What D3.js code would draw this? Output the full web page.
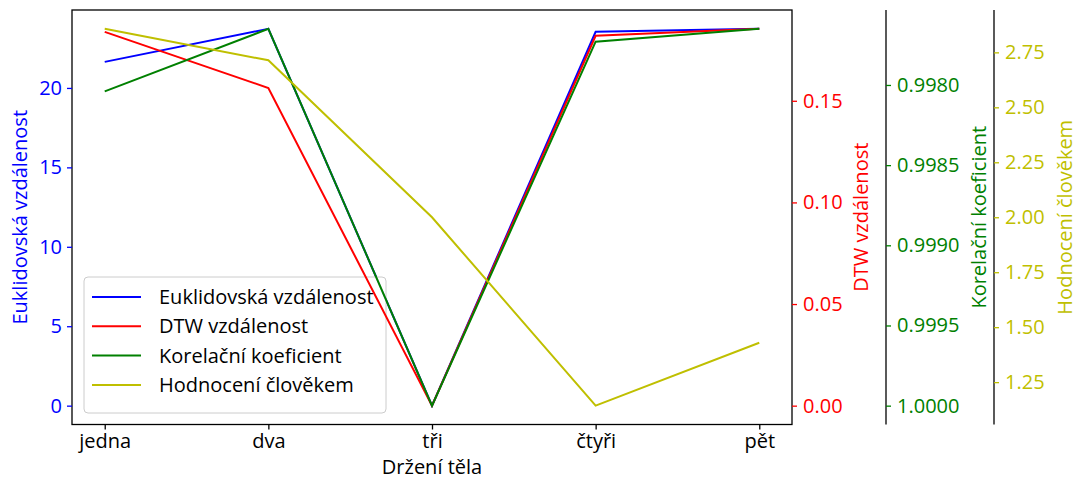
<!DOCTYPE html>
<html>
<head>
<meta charset="utf-8">
<script src="https://cdn.jsdelivr.net/npm/d3@7"></script>
<style>
  body { margin: 0; background: #fff; }
  svg text { font-family: "Open Sans", sans-serif; }
</style>
</head>
<body>
<div id="view"></div>
<script>
var categories = ["jedna", "dva", "tři", "čtyři", "pět"];
var euklid = [21.64, 23.72, 0, 23.53, 23.72];
var dtw = [0.1839, 0.1563, 0, 0.182, 0.1854];
var korel = [0.99804, 0.99765, 1.0, 0.99773, 0.99765];
var hodnoceni = [2.857, 2.714, 2.0, 1.143, 1.429];

var euklidTicks = [0, 5, 10, 15, 20];
var dtwTicks = [0, 0.05, 0.10, 0.15];
var korelTicks = [0.998, 0.9985, 0.999, 0.9995, 1.0];
var hodTicks = [1.25, 1.5, 1.75, 2.0, 2.25, 2.5, 2.75];

var names = ["Euklidovská vzdálenost", "DTW vzdálenost", "Korelační koeficient", "Hodnocení člověkem"];
var colors = ["#0000ff", "#ff0000", "#008000", "#bfbf00"];

var pLeft = 72, pRight = 792, pTop = 10, pBottom = 424.5;
var fs = 20;

var svg = d3.select("#view")
    .append("svg")
    .attr("width", 1078)
    .attr("height", 485);

var x = d3.scalePoint()
    .domain(categories)
    .range([pLeft, pRight])
    .padding(0.2);

// matplotlib-like 5% margins
function padded(vals) {
    var ext = d3.extent(vals), r = ext[1] - ext[0];
    return [ext[0] - 0.05 * r, ext[1] + 0.05 * r];
}

var y1 = d3.scaleLinear().domain(padded(euklid)).range([pBottom, pTop]);
var y2 = d3.scaleLinear().domain(padded(dtw)).range([pBottom, pTop]);
var y3 = d3.scaleLinear().domain(padded(korel)).range([pTop, pBottom]); // inverted
var y4 = d3.scaleLinear().domain(padded(hodnoceni)).range([pBottom, pTop]);

function line(scale) {
    return d3.line()
        .x(function(d, i) { return x(categories[i]); })
        .y(function(d) { return scale(d); });
}

function drawSeries(vals, scale, color) {
    svg.append("path")
        .datum(vals)
        .attr("fill", "none")
        .attr("stroke", color)
        .attr("stroke-width", 2)
        .attr("d", line(scale));
}

drawSeries(euklid, y1, colors[0]);

// legend
var lg = svg.append("g").attr("transform", "translate(84,277)");
lg.append("rect")
    .attr("width", 302)
    .attr("height", 136)
    .attr("rx", 4)
    .attr("fill", "#fff")
    .attr("fill-opacity", 0.8)
    .attr("stroke", "#cccccc")
    .attr("stroke-width", 1);
names.forEach(function(n, i) {
    var yy = 20 + i * 29.3;
    lg.append("line")
        .attr("x1", 8).attr("x2", 57)
        .attr("y1", yy).attr("y2", yy)
        .attr("stroke", colors[i])
        .attr("stroke-width", 2);
    lg.append("text")
        .attr("x", 75)
        .attr("y", yy)
        .attr("dy", "0.35em")
        .attr("font-size", fs)
        .attr("fill", "#000")
        .text(n);
});

drawSeries(dtw, y2, colors[1]);
drawSeries(korel, y3, colors[2]);
drawSeries(hodnoceni, y4, colors[3]);

// frame
svg.append("rect")
    .attr("x", pLeft).attr("y", pTop)
    .attr("width", pRight - pLeft).attr("height", pBottom - pTop)
    .attr("fill", "none")
    .attr("stroke", "#000")
    .attr("stroke-width", 1.3);

var ax3x = 886, ax4x = 994;
[ax3x, ax4x].forEach(function(px) {
    svg.append("line")
        .attr("x1", px).attr("x2", px)
        .attr("y1", pTop).attr("y2", pBottom)
        .attr("stroke", "#000")
        .attr("stroke-width", 1.3);
});

function styleAxis(g, color) {
    g.select(".domain").remove();
    g.selectAll(".tick line").attr("stroke", color).attr("stroke-width", 1.3);
    g.selectAll(".tick text").attr("fill", color).attr("font-size", fs)
        .attr("font-family", "Open Sans, sans-serif");
}

var gx = svg.append("g")
    .attr("transform", "translate(0," + pBottom + ")")
    .call(d3.axisBottom(x).tickSize(5).tickPadding(4));
styleAxis(gx, "#000");

var g1 = svg.append("g")
    .attr("transform", "translate(" + pLeft + ",0)")
    .call(d3.axisLeft(y1).tickValues(euklidTicks).tickSize(5).tickPadding(5).tickFormat(d3.format("d")));
styleAxis(g1, colors[0]);

var g2 = svg.append("g")
    .attr("transform", "translate(" + pRight + ",0)")
    .call(d3.axisRight(y2).tickValues(dtwTicks).tickSize(5).tickPadding(6).tickFormat(d3.format(".2f")));
styleAxis(g2, colors[1]);

var g3 = svg.append("g")
    .attr("transform", "translate(" + ax3x + ",0)")
    .call(d3.axisRight(y3).tickValues(korelTicks).tickSize(5).tickPadding(6).tickFormat(d3.format(".4f")));
styleAxis(g3, colors[2]);

var g4 = svg.append("g")
    .attr("transform", "translate(" + ax4x + ",0)")
    .call(d3.axisRight(y4).tickValues(hodTicks).tickSize(5).tickPadding(6).tickFormat(d3.format(".2f")));
styleAxis(g4, colors[3]);

// axis labels
var mid = (pTop + pBottom) / 2;
function yLabel(px, txt, color) {
    svg.append("text")
        .attr("transform", "translate(" + px + "," + mid + ") rotate(-90)")
        .attr("text-anchor", "middle")
        .attr("font-size", fs)
        .attr("fill", color)
        .text(txt);
}
yLabel(27, names[0], colors[0]);
yLabel(868, "DTW vzdálenost", colors[1]);
yLabel(986, names[2], colors[2]);
yLabel(1072, names[3], colors[3]);

svg.append("text")
    .attr("x", x("tři"))
    .attr("y", 474)
    .attr("text-anchor", "middle")
    .attr("font-size", fs)
    .attr("fill", "#000")
    .text("Držení těla");
</script>
</body>
</html>
